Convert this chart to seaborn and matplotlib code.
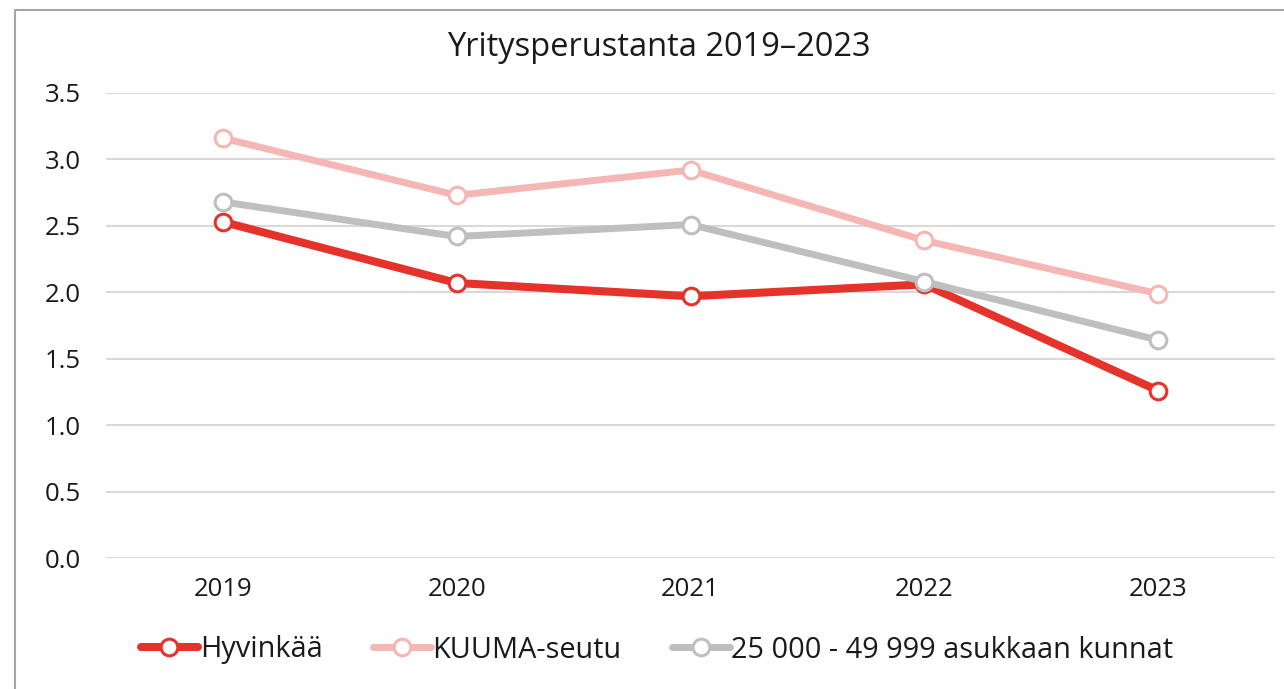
import matplotlib
matplotlib.use("Agg")
import matplotlib.pyplot as plt
import seaborn as sns
import pandas as pd
from matplotlib.patches import Rectangle

years = ["2019", "2020", "2021", "2022", "2023"]
hyvinkaa = [2.53, 2.07, 1.97, 2.06, 1.26]
kuuma = [3.16, 2.73, 2.92, 2.39, 1.99]
kunnat = [2.68, 2.42, 2.51, 2.08, 1.64]
series_names = ["Hyvinkää", "KUUMA-seutu", "25 000 - 49 999 asukkaan kunnat"]
colors = ["#E5322A", "#F5B7B5", "#BFBFBF"]
yticks = [0.0, 0.5, 1.0, 1.5, 2.0, 2.5, 3.0, 3.5]
title = "Yritysperustanta 2019–2023"

sns.set_theme(style="white")
plt.rcParams["font.family"] = ["Open Sans", "DejaVu Sans"]

fig = plt.figure(figsize=(12.84, 6.89), dpi=100)
ax = fig.add_axes([106/1284, 1-558/689, (1275-106)/1284, (558-93)/689])

df = pd.DataFrame({
    "year": years * 3,
    "value": hyvinkaa + kuuma + kunnat,
    "series": [series_names[0]]*5 + [series_names[1]]*5 + [series_names[2]]*5,
})

lws = [5.8, 5.0, 5.0]
for i, name in enumerate(series_names):
    sub = df[df["series"] == name]
    sns.lineplot(data=sub, x="year", y="value", ax=ax, color=colors[i], lw=lws[i],
                 marker="o", markersize=15, markerfacecolor="white",
                 markeredgecolor=colors[i], markeredgewidth=2.2, sort=False,
                 label=name, zorder=3+i)

ax.set_xlim(-0.5, 4.5)
ax.set_ylim(0, 3.5)
ax.set_yticks(yticks)
ax.set_yticklabels([f"{v:.1f}" for v in yticks])
ax.yaxis.grid(True, color="#D9D9D9", lw=1.5)
ax.xaxis.grid(False)
for s in ax.spines.values():
    s.set_visible(False)
ax.tick_params(axis="both", length=0, labelsize=18.5, colors="#1a1a1a")
ax.tick_params(axis="x", pad=14)
ax.tick_params(axis="y", pad=18)
ax.set_xlabel("")
ax.set_ylabel("")
ax.legend_.remove()

fig.text(659/1284, 1-48/689, title, ha="center", va="center", fontsize=23.5, color="#1a1a1a")

handles, labels = ax.get_legend_handles_labels()
for h in handles:
    h.set_markersize(12)
leg = fig.legend(handles, labels, loc="center", bbox_to_anchor=(657/1284, 1-650/689),
                 ncol=3, frameon=False, fontsize=20.8, handlelength=2.0,
                 handletextpad=0.05, columnspacing=1.75)
for t in leg.get_texts():
    t.set_color("#1a1a1a")

fig.patches.append(Rectangle((15/1284, -0.1), 1.2, (1-10/689)+0.1, transform=fig.transFigure,
                             fill=False, edgecolor="#A6A6A6", lw=1.5, zorder=0))

fig.savefig("out.png", dpi=100, facecolor="white")
